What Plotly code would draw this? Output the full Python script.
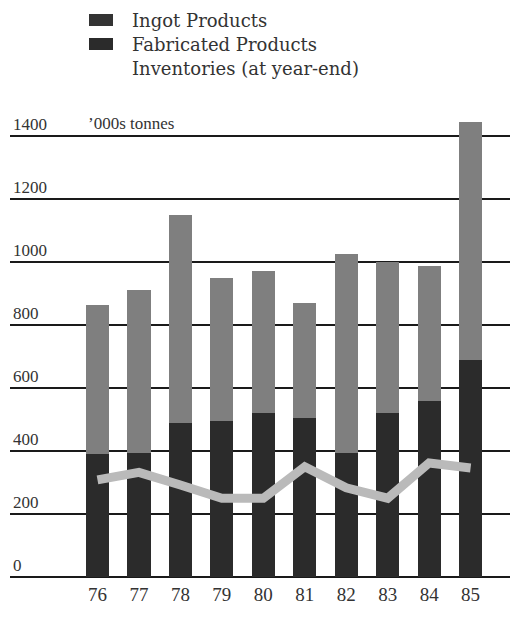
import plotly.graph_objects as go

# Aluminium products, '000s tonnes
years = ["76", "77", "78", "79", "80", "81", "82", "83", "84", "85"]
fabricated = [390, 393, 489, 496, 522, 505, 394, 522, 557, 689]
ingot = [474, 518, 660, 453, 449, 365, 632, 478, 430, 756]
inventories = [308, 332, 292, 250, 250, 350, 283, 250, 362, 346]
y_ticks = [0, 200, 400, 600, 800, 1000, 1200, 1400]

legend_items = ["Ingot Products", "Fabricated Products", "Inventories (at year-end)"]
legend_swatches = ["#333333", "#2b2b2b", None]

SERIF = "Liberation Serif, Times New Roman, serif"
WIDE_SERIF = "DejaVu Serif, serif"
TEXT = "#333333"

# plot area geometry (pixels), used to place the key above it
W, H = 511, 618
L, R, T, B = 10, 1, 110, 41
PW, PH = W - L - R, H - T - B


def px_to_paper_x(px):
    return (px - L) / PW


def px_to_paper_y(py):
    return (H - B - py) / PH


fig = go.Figure()
fig.add_trace(go.Bar(x=years, y=fabricated, name="Fabricated Products",
                     marker=dict(color="#2b2b2b", line=dict(width=0)),
                     width=0.56))
fig.add_trace(go.Bar(x=years, y=ingot, name="Ingot Products",
                     marker=dict(color="#7f7f7f", line=dict(width=0)),
                     width=0.56))
fig.add_trace(go.Scatter(x=years, y=inventories, name="Inventories (at year-end)",
                         mode="lines", line=dict(color="#bababa", width=9)))

# key: swatches and labels stacked above the plot
for i, (label, colour) in enumerate(zip(legend_items, legend_swatches)):
    cy = 20 + 24 * i
    if colour:
        fig.add_shape(type="rect", xref="paper", yref="paper",
                      x0=px_to_paper_x(89), x1=px_to_paper_x(113),
                      y0=px_to_paper_y(cy + 6), y1=px_to_paper_y(cy - 6),
                      fillcolor=colour, line=dict(width=0))
    fig.add_annotation(x=px_to_paper_x(130), y=px_to_paper_y(cy),
                       xref="paper", yref="paper", text=label,
                       showarrow=False, xanchor="left", yanchor="middle",
                       font=dict(family=WIDE_SERIF, size=18, color=TEXT))

fig.add_annotation(x=0, y=1400, xref="x", yref="y", text="’000s tonnes",
                   showarrow=False, xanchor="left", yanchor="bottom",
                   xshift=-11, yshift=1,
                   font=dict(family=SERIF, size=17, color=TEXT))

fig.update_layout(
    width=W, height=H,
    margin=dict(l=L, r=R, t=T, b=B),
    barmode="stack",
    paper_bgcolor="white",
    plot_bgcolor="white",
    font=dict(family=SERIF, size=16, color=TEXT),
    showlegend=False,
    xaxis=dict(type="category", range=[-2.11, 9.95], showgrid=False,
               ticks="", showline=False, zeroline=False,
               ticklabelstandoff=4,
               tickfont=dict(family=SERIF, size=19, color=TEXT)),
    yaxis=dict(range=[0, 1482], tickvals=y_ticks,
               ticktext=[str(v) for v in y_ticks],
               showgrid=True, gridcolor="#1a1a1a", gridwidth=1.5,
               zeroline=True, zerolinecolor="#1a1a1a", zerolinewidth=1.5,
               showline=False, ticks="",
               ticklabelposition="inside top",
               tickfont=dict(family=SERIF, size=17, color=TEXT)),
)

fig.write_html("out.html")
